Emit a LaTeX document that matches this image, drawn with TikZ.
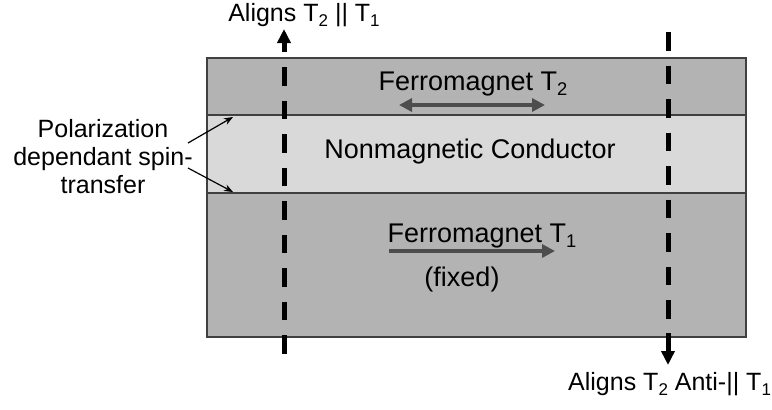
\documentclass[tikz,border=0pt]{standalone}
\usepackage{fontspec}
\setmainfont{Liberation Sans}
\usetikzlibrary{arrows.meta}
\definecolor{ferro}{HTML}{B3B3B3}
\definecolor{conductor}{HTML}{D9D9D9}
\definecolor{edge}{HTML}{404040}
\definecolor{magarrow}{HTML}{4D4D4D}
% lowered index digit, scaled to the current text size
\newcommand{\lowidx}[1]{\raisebox{-0.2em}{\scalebox{0.68}{#1}}}
\tikzset{
  lbl/.style={font=\fontsize{25}{28}\selectfont, inner sep=0pt, anchor=base},
  inlbl/.style={lbl, font=\fontsize{27}{30}\selectfont},
  layer/.style={draw=edge, line width=1.1pt},
  guide/.style={line width=5pt, dash pattern=on 18.5pt off 15pt},
  guidetip/.style={line width=5pt, -{Triangle[width=13pt,length=14pt]}},
  moment/.style={draw=magarrow, line width=4pt},
  pointer/.style={line width=1.2pt, -{Stealth[width=7pt,length=9pt]}}
}
\begin{document}
\begin{tikzpicture}[x=1pt, y=-1pt]
\useasboundingbox (0,0) rectangle (772,410);

% stack of layers
\path[layer, fill=ferro] (207,58) rectangle (746,115);
\path[layer, fill=conductor] (207,115) rectangle (746,193);
\path[layer, fill=ferro] (207,193) rectangle (746,337);
\node[draw=edge, line width=1.1pt, minimum width=539pt, minimum height=279pt, inner sep=0pt] (stack) at (476.5,197.5) {};

% labels inside the layers
\node[inlbl] (free) at (473,90) {Ferromagnet T\lowidx{2}};
\node[inlbl] (spacer) at (470,158) {Nonmagnetic Conductor};
\node[inlbl] (pinned) at (482,242) {Ferromagnet T\lowidx{1}};
\node[inlbl] (fixed) at (462,286) {(fixed)};

% magnetisation directions
\coordinate (fL) at (399,105);
\coordinate (fR) at (545,105);
\draw[moment, {Triangle[width=13pt,length=13pt]}-{Triangle[width=13pt,length=13pt]}] (fL) -- (fR);
\coordinate (pL) at (389,251);
\coordinate (pR) at (555,251);
\draw[moment, -{Triangle[width=13pt,length=13pt]}] (pL) -- (pR);

% left guide: aligns parallel
\coordinate (gLtop) at (284,67);
\coordinate (gLbot) at (284,356);
\coordinate (gLs) at (284,52);
\coordinate (gLt) at (284,29);
\draw[guide] (gLtop) -- (gLbot);
\draw[guidetip] (gLs) -- (gLt);
\node[lbl] (par) at (304,21) {Aligns T\lowidx{2} || T\lowidx{1}};

% right guide: aligns antiparallel
\coordinate (gRtop) at (668,32);
\coordinate (gRbot) at (668,319);
\coordinate (gRs) at (668,333);
\coordinate (gRt) at (668,365);
\draw[guide] (gRtop) -- (gRbot);
\draw[guidetip] (gRs) -- (gRt);
\node[lbl, anchor=base west] (anti) at (568,390) {Aligns T\lowidx{2} Anti-|| T\lowidx{1}};

% spin-transfer annotation
\node[lbl, align=center, anchor=north] (pol) at (103,119) {Polarization\\dependant spin-\\transfer};
\coordinate (iTop) at (233,117);
\coordinate (iBot) at (233,192);
\draw[pointer] (188,143) -- (iTop);
\draw[pointer] (188,168) -- (iBot);
\end{tikzpicture}
\end{document}
